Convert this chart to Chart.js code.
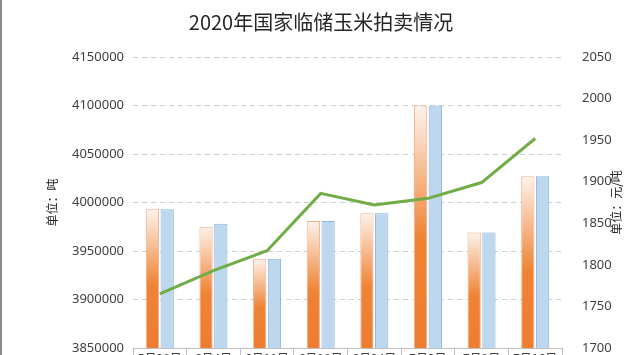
<!DOCTYPE html>
<html>
<head>
<meta charset="utf-8">
<script src="https://cdn.jsdelivr.net/npm/chart.js@4/dist/chart.umd.min.js"></script>
<style>
  html, body { margin: 0; padding: 0; background: #fff; overflow: hidden; }
  body { width: 640px; height: 355px; }
  #wrap { position: relative; width: 640px; height: 380px; border-left: 2px solid #8c8c8c; box-sizing: border-box; }
</style>
</head>
<body>
<div id="wrap"><canvas id="c" width="638" height="380"></canvas></div>
<script>
// 拍卖日期（底部标签在原图中被裁掉）
const labels = ['5月28日', '6月4日', '6月11日', '6月18日', '6月24日', '7月2日', '7月9日', '7月16日'];
// 计划拍卖量（吨）
const planned = [3993000, 3975000, 3942000, 3981000, 3989000, 4100000, 3969000, 4027000];
// 实际成交量（吨）
const traded = [3993000, 3978000, 3942000, 3981000, 3989000, 4100000, 3969000, 4027000];
// 成交均价（元/吨）
const price = [1765, 1793, 1817, 1886, 1872, 1880, 1899, 1952];

const orangeGradient = (c) => {
  const chart = c.chart;
  const area = chart.chartArea;
  if (!area || c.raw == null) return '#ed7d31';
  const top = chart.scales.y.getPixelForValue(c.raw);
  const g = chart.ctx.createLinearGradient(0, top, 0, area.bottom);
  g.addColorStop(0, '#fdf3ec');
  g.addColorStop(0.55, '#ef8334');
  g.addColorStop(1, '#ed7d31');
  return g;
};

// 两侧的单位说明，都是从下往上读
const unitTitles = {
  id: 'unitTitles',
  afterDraw(chart) {
    const c = chart.ctx;
    const mid = (chart.chartArea.top + chart.chartArea.bottom) / 2;
    c.save();
    c.fillStyle = '#262626';
    c.font = '12px "Noto Sans CJK SC", sans-serif';
    c.textAlign = 'center';
    c.textBaseline = 'middle';
    [[50, '单位：吨'], [614, '单位：元/吨']].forEach(([x, t]) => {
      c.save();
      c.translate(x, mid);
      c.rotate(-Math.PI / 2);
      c.fillText(t, 0, 0);
      c.restore();
    });
    c.restore();
  }
};

const tickFont = { family: '"Noto Sans", sans-serif', size: 13 };

const ctx = document.getElementById('c').getContext('2d');
new Chart(ctx, {
  type: 'bar',
  data: {
    labels: labels,
    datasets: [
      {
        type: 'line',
        label: '成交均价',
        data: price,
        yAxisID: 'y1',
        borderColor: '#70ad47',
        borderWidth: 3,
        pointRadius: 0,
        tension: 0,
        order: 0
      },
      {
        label: '计划拍卖量',
        data: planned,
        yAxisID: 'y',
        backgroundColor: orangeGradient,
        borderColor: '#f2b08a',
        borderWidth: 1,
        categoryPercentage: 0.55,
        barPercentage: 0.9,
        order: 1
      },
      {
        label: '实际成交量',
        data: traded,
        yAxisID: 'y',
        backgroundColor: '#bdd7ee',
        borderColor: '#8db3dc',
        borderWidth: 1,
        categoryPercentage: 0.55,
        barPercentage: 0.9,
        order: 1
      }
    ]
  },
  plugins: [unitTitles],
  options: {
    responsive: false,
    animation: false,
    layout: { padding: 0 },
    plugins: {
      legend: { display: false },
      tooltip: { enabled: false },
      title: {
        display: true,
        text: '2020年国家临储玉米拍卖情况',
        color: '#262626',
        font: { family: '"Noto Sans CJK SC", sans-serif', size: 20, weight: 'normal' },
        padding: { top: 10, bottom: 23 }
      }
    },
    scales: {
      x: {
        grid: { display: true, drawOnChartArea: false, offset: true, color: '#bfbfbf', tickLength: 10 },
        border: { display: true, color: '#bfbfbf' },
        ticks: { color: '#404040', font: { family: '"Noto Sans CJK SC", sans-serif', size: 12 }, maxRotation: 0, padding: -7 },
        afterFit: (s) => { s.height = 32; }
      },
      y: {
        position: 'left',
        min: 3850000,
        max: 4150000,
        ticks: {
          stepSize: 50000,
          color: '#404040',
          padding: 9,
          font: tickFont,
          callback: (v) => String(v)
        },
        grid: { color: '#cfcfcf', drawTicks: false },
        border: { display: false, dash: [5, 4] },
        afterFit: (s) => { s.width = 131; }
      },
      y1: {
        position: 'right',
        min: 1700,
        max: 2050,
        ticks: {
          stepSize: 50,
          color: '#404040',
          padding: 12,
          font: tickFont,
          callback: (v) => String(v)
        },
        grid: { display: false },
        border: { display: false },
        afterFit: (s) => { s.width = 78; }
      }
    }
  }
});
</script>
</body>
</html>
